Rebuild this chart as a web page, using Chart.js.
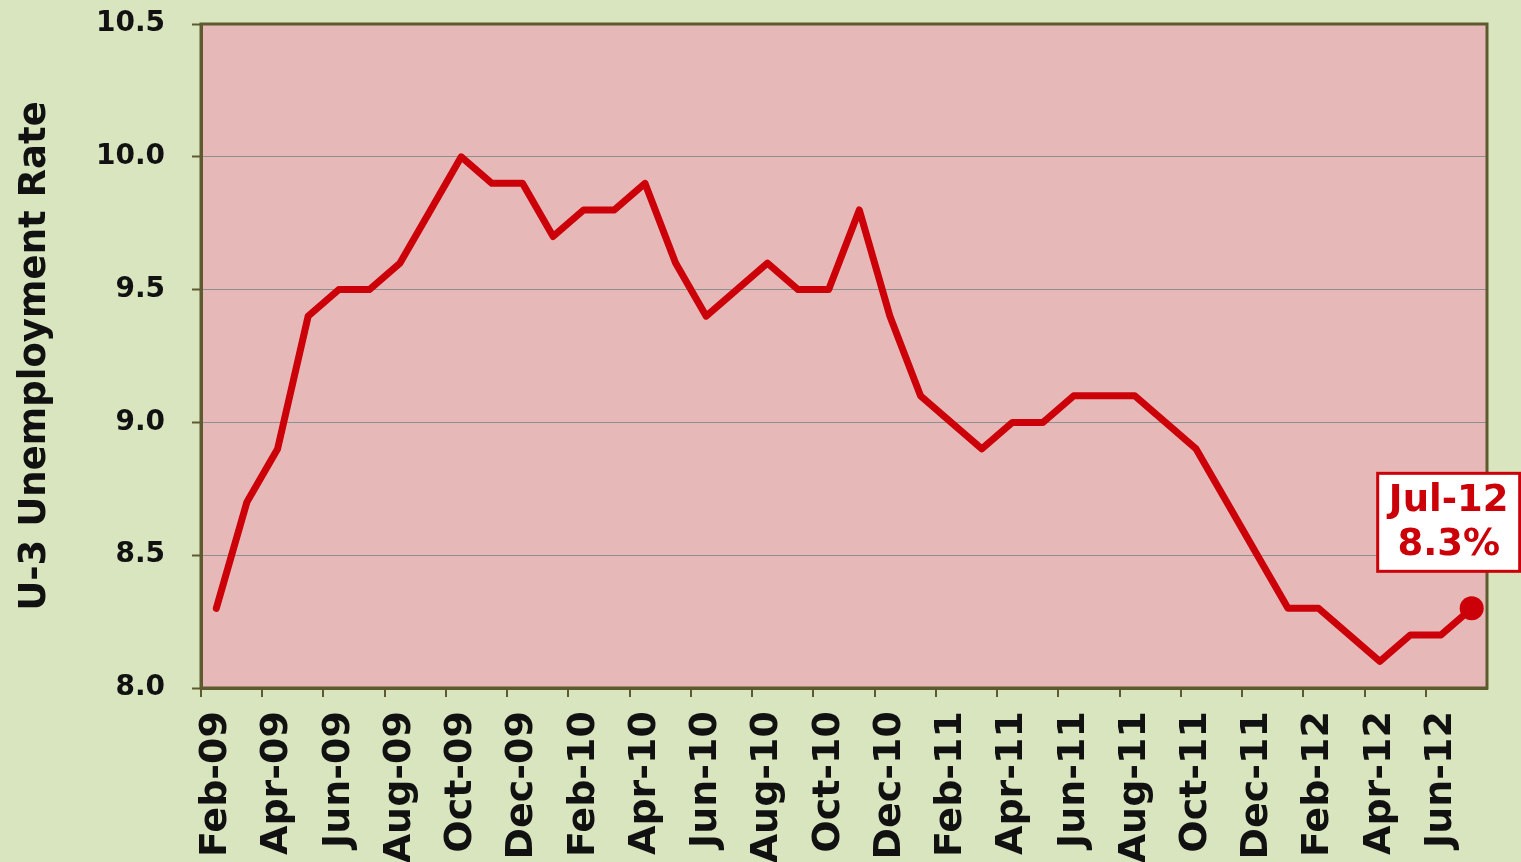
<!DOCTYPE html>
<html>
<head>
<meta charset="utf-8">
<script src="https://cdn.jsdelivr.net/npm/chart.js@4.4.1/dist/chart.umd.min.js"></script>
<style>
html,body{margin:0;padding:0;background:#d8e5bf;overflow:hidden;}
canvas{display:block;}
</style>
</head>
<body>
<canvas id="c" width="1521" height="862"></canvas>
<script>
const months = ["Feb-09","Mar-09","Apr-09","May-09","Jun-09","Jul-09","Aug-09","Sep-09","Oct-09","Nov-09","Dec-09",
"Jan-10","Feb-10","Mar-10","Apr-10","May-10","Jun-10","Jul-10","Aug-10","Sep-10","Oct-10","Nov-10","Dec-10",
"Jan-11","Feb-11","Mar-11","Apr-11","May-11","Jun-11","Jul-11","Aug-11","Sep-11","Oct-11","Nov-11","Dec-11",
"Jan-12","Feb-12","Mar-12","Apr-12","May-12","Jun-12","Jul-12"];
const u3Rate = [8.3,8.7,8.9,9.4,9.5,9.5,9.6,9.8,10.0,9.9,9.9,
9.7,9.8,9.8,9.9,9.6,9.4,9.5,9.6,9.5,9.5,9.8,9.4,
9.1,9.0,8.9,9.0,9.0,9.1,9.1,9.1,9.0,8.9,8.7,8.5,
8.3,8.3,8.2,8.1,8.2,8.2,8.3];
const yMin = 8.0, yMax = 10.5, yStep = 0.5;
const yTitle = "U-3 Unemployment Rate";

const BG = '#d8e5bf', PLOT = '#e7b8b8', FRAME = '#5e5a30', RED = '#cc0008';
const FONT = "'DejaVu Sans', Verdana, sans-serif";

function zeroPad(s) { s.paddingTop = 0; s.paddingBottom = 0; s.paddingLeft = 0; s.paddingRight = 0; }

const bgPlugin = {
  id: 'bg',
  beforeDraw(chart) {
    const {ctx, chartArea: a} = chart;
    ctx.save();
    ctx.fillStyle = BG;
    ctx.fillRect(0, 0, chart.width, chart.height);
    ctx.fillStyle = PLOT;
    ctx.fillRect(a.left, a.top, a.right - a.left, a.bottom - a.top);
    ctx.restore();
  },
  afterDatasetsDraw(chart) {
    const {ctx, chartArea: a} = chart;
    ctx.save();
    ctx.strokeStyle = FRAME;
    ctx.lineWidth = 3;
    ctx.strokeRect(a.left, a.top, a.right - a.left, a.bottom - a.top);
    // annotation for the last point
    const meta = chart.getDatasetMeta(0);
    const last = meta.data[meta.data.length - 1];
    const px = last.x, py = last.y;
    const bx = px - 94, by = py - 135, bw = 142, bh = 98;
    ctx.fillStyle = '#ffffff';
    ctx.fillRect(bx, by, bw, bh);
    ctx.strokeStyle = RED;
    ctx.lineWidth = 3;
    ctx.strokeRect(bx, by, bw, bh);
    ctx.fillStyle = RED;
    ctx.font = "bold 37px " + FONT;
    ctx.textAlign = 'center';
    ctx.textBaseline = 'middle';
    ctx.fillText(months[months.length - 1], bx + bw / 2, by + 28);
    ctx.fillText(u3Rate[u3Rate.length - 1].toFixed(1) + '%', bx + bw / 2, by + 72);
    ctx.restore();
  }
};

new Chart(document.getElementById('c'), {
  type: 'line',
  data: {
    labels: months,
    datasets: [{
      data: u3Rate,
      borderColor: RED,
      borderWidth: 7,
      tension: 0,
      fill: false,
      pointRadius: ctx => ctx.dataIndex === u3Rate.length - 1 ? 12 : 0,
      pointHoverRadius: ctx => ctx.dataIndex === u3Rate.length - 1 ? 12 : 0,
      pointBackgroundColor: RED,
      pointBorderColor: RED,
      pointBorderWidth: 0,
      borderJoinStyle: 'round',
      borderCapStyle: 'round'
    }]
  },
  options: {
    responsive: false,
    animation: false,
    events: [],
    layout: { padding: { top: 24, right: 34, left: 0, bottom: 0 } },
    plugins: { legend: { display: false }, tooltip: { enabled: false } },
    scales: {
      x: {
        type: 'category',
        offset: true,
        afterFit(s) { s.height = 174; zeroPad(s); },
        grid: {
          display: true,
          drawOnChartArea: false,
          offset: true,
          tickLength: 9,
          lineWidth: 2,
          color: ctx => (ctx.index % 2 === 0 ? FRAME : 'rgba(0,0,0,0)')
        },
        border: { display: true, color: FRAME, width: 3 },
        ticks: {
          autoSkip: false,
          maxRotation: 90,
          minRotation: 90,
          padding: 14,
          color: '#111111',
          font: { family: FONT, size: 38, weight: 'bold' },
          callback(v, i) { return i % 2 === 0 ? months[i] : ''; }
        }
      },
      y: {
        min: yMin,
        max: yMax,
        afterFit(s) { s.width = 201; zeroPad(s); },
        grid: {
          color: '#8f8f8f',
          lineWidth: 1,
          tickLength: 9,
          tickColor: FRAME,
          tickWidth: 2
        },
        border: { display: true, color: FRAME, width: 3 },
        ticks: {
          stepSize: yStep,
          padding: 27,
          color: '#111111',
          font: { family: FONT, size: 28, weight: 'bold' },
          callback: v => Number(v).toFixed(1)
        },
        title: {
          display: true,
          text: yTitle,
          color: '#111111',
          font: { family: FONT, size: 37, weight: 'bold' },
          padding: { top: 13, bottom: 0 }
        }
      }
    }
  },
  plugins: [bgPlugin]
});
</script>
</body>
</html>
